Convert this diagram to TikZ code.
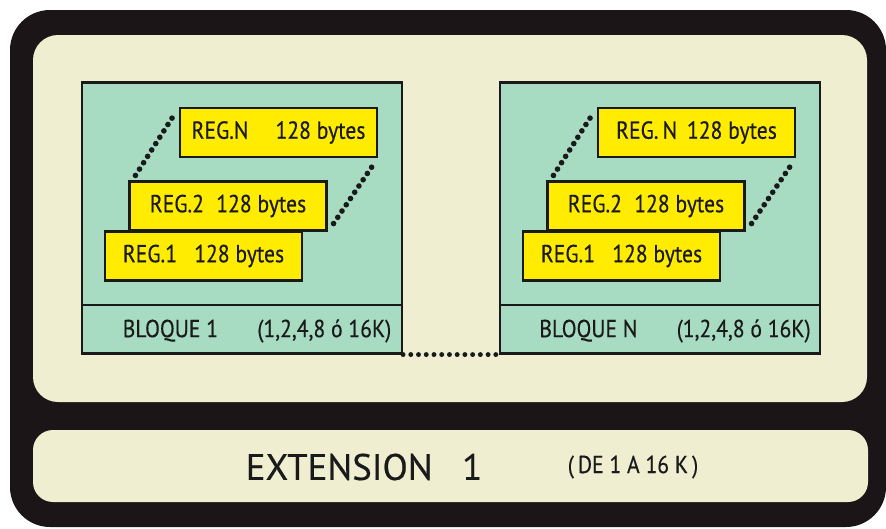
\documentclass[tikz,border=0pt]{standalone}
\usepackage{fontspec}
\setmainfont{PT Sans}[FakeStretch=0.88, FakeBold=0.4]
\newfontfamily\ancha{PT Sans}[FakeBold=0.4]
\usetikzlibrary{calc}

\definecolor{marco}{HTML}{1B1517}
\definecolor{crema}{HTML}{EFEED0}
\definecolor{menta}{HTML}{A7DCC3}
\definecolor{amarillo}{HTML}{FFEC00}
\definecolor{tinta}{HTML}{1A1A1A}

\tikzset{
  bloque/.style={draw=tinta, line width=1.2pt, fill=menta, minimum width=320*0.02cm, minimum height=271*0.02cm, inner sep=0pt},
  reg/.style={draw=tinta, line width=1.2pt, fill=amarillo, minimum width=197*0.02cm, minimum height=49*0.02cm, inner sep=0pt, font=\fontsize{14}{16}\selectfont, text=tinta},
  puntos/.style={tinta, line width=3.2pt, line cap=round, dash pattern=on 0pt off 4.3pt},
  rotulo/.style={text=tinta, inner sep=0pt}
}

\begin{document}
\begin{tikzpicture}[x=0.02cm, y=-0.02cm]
  \useasboundingbox (0,0) rectangle (886,528);

  % frame and panels
  \fill[marco, rounded corners=0.8cm] (10,10) rectangle (886,527);
  \fill[crema, rounded corners=0.5cm] (33,35) rectangle (867,402);
  \fill[crema, rounded corners=0.4cm] (33,430) rectangle (868,502);

  % the two blocks
  \foreach \dx/\b/\n in {0/1/REG.N\hspace{1.1em}, 418/N/REG.\,N\hspace{0.4em}} {
    \node[bloque] (blq\b) at (242+\dx, 218) {};
    \draw[tinta, line width=1.2pt] (blq\b.west |- 0,305) -- (blq\b.east |- 0,305);
    \node[rotulo, font=\fontsize{14}{16}\selectfont] (lbl\b) at (257+\dx, 331)
      {BLOQUE \b\hspace{1.6em}(1,2,4,8 ó 16K)};
    \node[reg] (rN\b) at (278.5+\dx, 132.5) {\n 128 bytes};
    \node[reg] (r2\b) at (228+\dx, 206) {REG.2\hspace{0.5em}128 bytes};
    \node[reg] (r1\b) at (203.5+\dx, 256) {REG.1\hspace{0.7em}128 bytes};
    \draw[puntos] ($(r2\b.north west)+(7,-5)$) -- ($(rN\b.north west)+(-3,5)$);
    \draw[puntos] ($(r2\b.south east)+(6,-8)$) -- ($(rN\b.south east)+(-5,7)$);
  }
  \draw[puntos, line width=2.8pt, dash pattern=on 0pt off 4.4pt] (blq1.south east) -- (blqN.south west);

  % extension
  \node[rotulo, font=\ancha\fontsize{21}{25}\selectfont] (ext) at (364,467) {EXTENSION\hspace{0.8em}1};
  \node[rotulo, font=\fontsize{14}{16}\selectfont] (rng) at (633,467) {(\,DE 1 A 16 K\,)};
\end{tikzpicture}
\end{document}
